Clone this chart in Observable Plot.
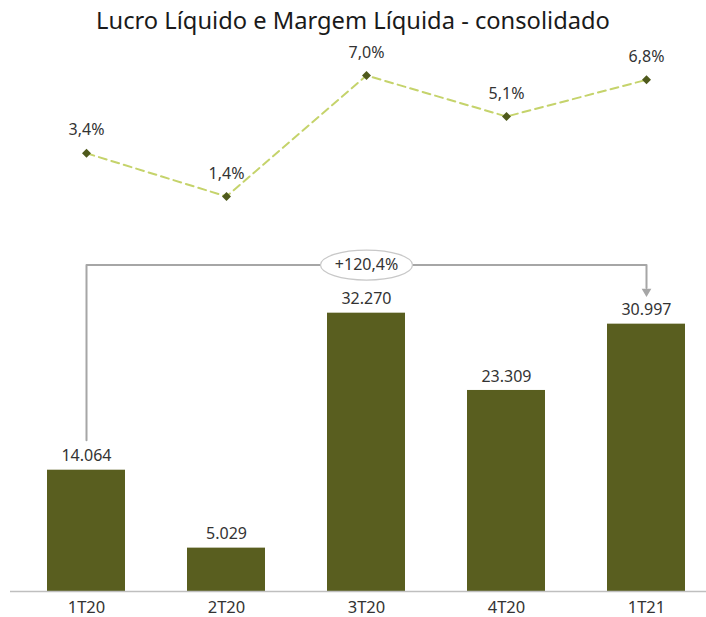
<!DOCTYPE html>
<html><head><meta charset="utf-8">
<script src="https://cdn.jsdelivr.net/npm/d3@7"></script>
<script src="https://cdn.jsdelivr.net/npm/@observablehq/plot@0.6"></script>
<style>
body{margin:0;background:#fff;}
#wrap{position:relative;width:706px;height:617px;font-family:"Noto Sans",sans-serif;}
#bars,#line{position:absolute;left:0;top:0;}
#title{position:absolute;top:4px;left:0;width:706px;text-align:center;font-size:23.7px;line-height:32px;color:#1a1a1a;}
</style></head><body>
<div id="wrap"><div id="bars"></div><div id="line"></div><div id="title">Lucro Líquido e Margem Líquida - consolidado</div></div>
<script>
const quarters = ["1T20", "2T20", "3T20", "4T20", "1T21"];
const netIncome = [14064, 5029, 32270, 23309, 30997];
const netMargin = [3.4, 1.4, 7.0, 5.1, 6.8];
const growthLabel = "+120,4%";
const growthFrom = "1T20";
const growthTo = "1T21";

const ptBR = d3.formatLocale({decimal: ",", thousands: ".", grouping: [3], currency: ["R$", ""]});
const fmtInt = ptBR.format(",d");
const fmtPct = v => ptBR.format(".1f")(v) + "%";

const barData = quarters.map((q, i) => ({q, v: netIncome[i]}));
const lineData = quarters.map((q, i) => ({q, m: netMargin[i]}));

const xOpts = {type: "band", domain: quarters, paddingInner: 0.44, paddingOuter: 0.2057, align: 0.642};
const bracketLevel = 37850;
const bracketStart = 17550;
const arrowLevel = 35200;
const arrowTip = 34780;
const bracket = [
  {q: growthFrom, v: bracketStart},
  {q: growthFrom, v: bracketLevel},
  {q: growthTo, v: bracketLevel},
  {q: growthTo, v: arrowLevel}
];
const ellipse = {
  draw(ctx) {
    const rx = 46, ry = 15, k = 0.5523;
    ctx.moveTo(rx, 0);
    ctx.bezierCurveTo(rx, ry * k, rx * k, ry, 0, ry);
    ctx.bezierCurveTo(-rx * k, ry, -rx, ry * k, -rx, 0);
    ctx.bezierCurveTo(-rx, -ry * k, -rx * k, -ry, 0, -ry);
    ctx.bezierCurveTo(rx * k, -ry, rx, -ry * k, rx, 0);
    ctx.closePath();
  }
};

const bars = Plot.plot({
  width: 706, height: 617,
  marginTop: 246, marginBottom: 26, marginLeft: 10, marginRight: 0,
  style: {background: "none", fontFamily: "Noto Sans", overflow: "visible"},
  x: {...xOpts, label: null},
  y: {domain: [0, 40000], axis: null},
  marks: [
    Plot.barY(barData, {x: "q", y: "v", fill: "#595e1f"}),
    Plot.ruleY([0], {stroke: "#bfbfbf", strokeWidth: 1.5}),
    Plot.text(barData, {x: "q", y: "v", text: d => fmtInt(d.v), dy: -14, fontSize: 16, fill: "#333"}),
    Plot.line(bracket, {x: "q", y: "v", stroke: "#a6a6a6", strokeWidth: 2}),
    Plot.dot([{q: growthTo, v: arrowTip}], {x: "q", y: "v", symbol: "triangle", r: 3.6, rotate: 180, fill: "#a6a6a6", stroke: "none"}),
    Plot.dot([{q: "3T20", v: bracketLevel}], {x: "q", y: "v", symbol: ellipse, r: 5, fill: "white", stroke: "#c8c8c8", strokeWidth: 1.2}),
    Plot.text([{q: "3T20", v: bracketLevel}], {x: "q", y: "v", text: () => growthLabel, fontSize: 16, fill: "#333"}),
    Plot.axisX({tickSize: 0, tickPadding: 10, fontSize: 16.5, fill: "#333"})
  ]
});
document.getElementById("bars").append(bars);

const line = Plot.plot({
  width: 706, height: 230,
  marginTop: 53.4, marginBottom: 3.8, marginLeft: 10, marginRight: 0,
  style: {background: "none", fontFamily: "Noto Sans", overflow: "visible"},
  x: {...xOpts, axis: null},
  y: {domain: [0, 8], axis: null},
  marks: [
    Plot.line(lineData, {x: "q", y: "m", stroke: "#c5d36b", strokeWidth: 2, strokeDasharray: "8,5"}),
    Plot.dot(lineData, {x: "q", y: "m", symbol: "square", r: 3.6, rotate: 45, fill: "#4f5a1c", stroke: "none"}),
    Plot.text(lineData, {x: "q", y: "m", text: d => fmtPct(d.m), dy: -23, fontSize: 16, fill: "#333"})
  ]
});
document.getElementById("line").append(line);
</script>
</body></html>
